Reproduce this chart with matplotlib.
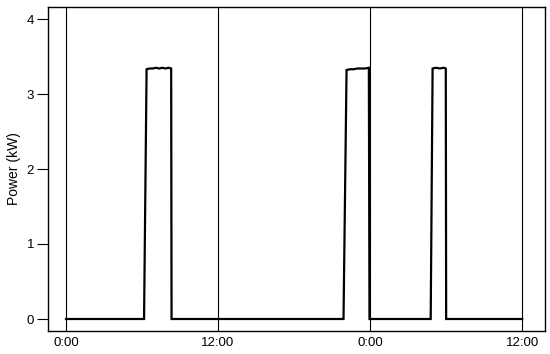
import matplotlib
matplotlib.use("Agg")
import matplotlib.pyplot as plt

plt.rcParams['font.family'] = ['Liberation Sans', 'DejaVu Sans']

time_h = [0, 6.16, 6.36, 6.6, 6.85, 7.1, 7.35, 7.6, 7.85, 8.1, 8.3, 8.33,
          21.9, 22.14, 22.4, 22.7, 23.0, 23.3, 23.6, 23.9, 23.95,
          28.78, 28.93, 29.2, 29.5, 29.8, 29.97, 30.0, 36.0]
power_kw = [0, 0, 3.33, 3.34, 3.34, 3.35, 3.34, 3.35, 3.34, 3.35, 3.34, 0,
            0, 3.32, 3.33, 3.33, 3.34, 3.34, 3.34, 3.35, 0,
            0, 3.34, 3.35, 3.34, 3.35, 3.34, 0, 0]

gridline_hours = [0, 12, 24, 36]
xtick_labels = ["0:00", "12:00", "0:00", "12:00"]
yticks = [0, 1, 2, 3, 4]

fig = plt.figure(figsize=(5.5, 3.54), dpi=100)
ax = fig.add_axes([48/550, 1-331/354, (545-48)/550, (331-7)/354])

for h in gridline_hours:
    ax.axvline(h, color='black', linewidth=0.8, zorder=1)

ax.plot(time_h, power_kw, color='black', linewidth=1.6, zorder=2,
        solid_joinstyle='miter')

ax.set_xlim(-1.42, 37.8)
ax.set_ylim(-0.16, 4.16)
ax.set_yticks(yticks)
ax.set_yticklabels([str(v) for v in yticks], fontsize=9.5)
ax.set_xticks(gridline_hours)
ax.set_xticklabels(xtick_labels, fontsize=9.5)
ax.tick_params(axis='x', length=0, pad=4)
ax.tick_params(axis='y', length=8, width=0.8, pad=2)
for s in ax.spines.values():
    s.set_linewidth(1.0)
ax.set_ylabel("Power (kW)", fontsize=10, labelpad=4)

fig.savefig("out.png", dpi=100)
